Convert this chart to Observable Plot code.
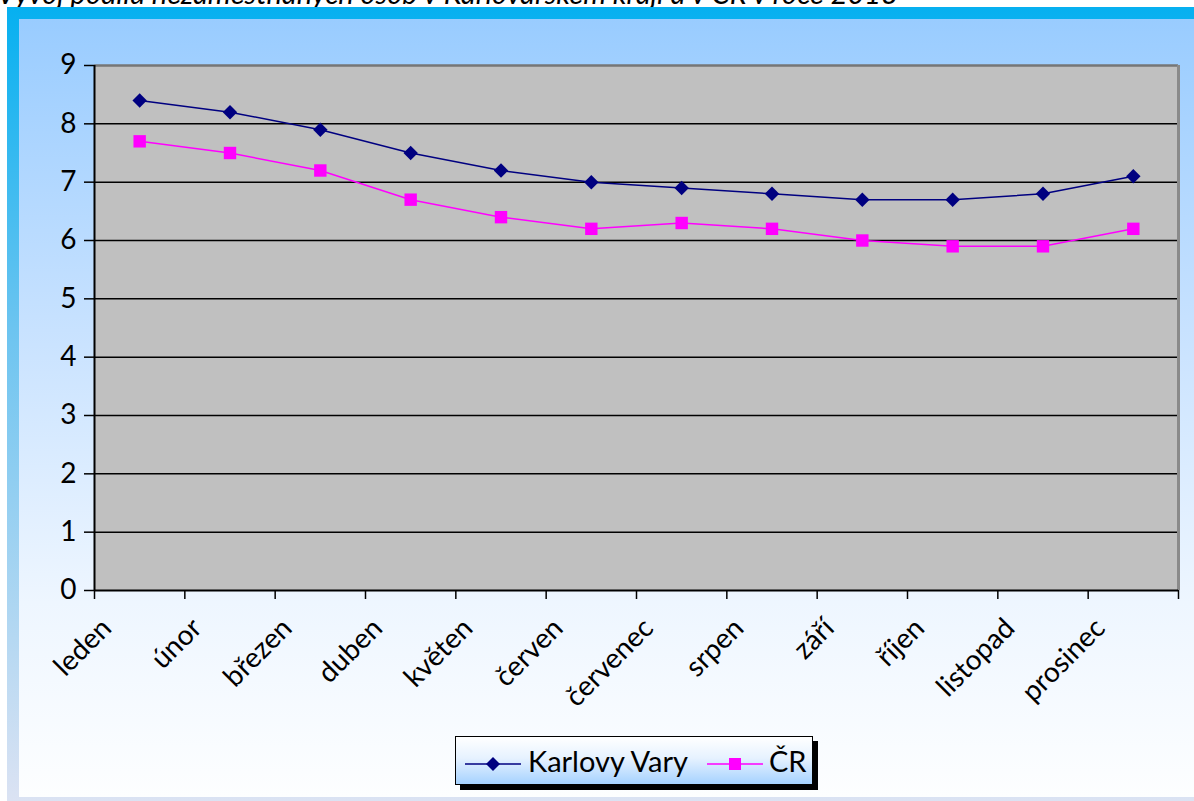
<!DOCTYPE html>
<html>
<head>
<meta charset="utf-8">
<script src="https://cdn.jsdelivr.net/npm/d3@7"></script>
<script src="https://cdn.jsdelivr.net/npm/@observablehq/plot@0.6"></script>
<style>
  html, body { margin: 0; padding: 0; background: #fff; }
  body { width: 1194px; height: 801px; position: relative; overflow: hidden; font-family: Lato, "Open Sans", sans-serif; }
  #title { position: absolute; left: -3px; top: -22px; font-style: italic; font-size: 29px; line-height: 29px; white-space: nowrap; color: #000; }
  #frame { position: absolute; left: 7px; top: 7px; width: 1210px; height: 802px; background: linear-gradient(to bottom, #06b0f0 0%, #6cc4f0 40%, #dde3f3 100%); }
  #inner { position: absolute; left: 12px; top: 12px; right: 0; bottom: 12px; background: linear-gradient(to bottom, #99ccff 0%, #c8e2ff 40%, #eef6ff 75%, #fdfeff 100%); }
  #chart { position: absolute; left: 0; top: 0; }
  #legend { position: absolute; left: 455px; top: 736px; width: 356px; height: 47px; border: 1px solid #000; background: linear-gradient(to bottom, #ffffff 0%, #e6f2ff 45%, #a6d2ff 100%); box-shadow: 5px 5px 0 #000; font-size: 29px; }
  #legend svg, #legend span { position: absolute; display: block; }
  #legend span { line-height: 47px; top: 0; white-space: nowrap; }
</style>
</head>
<body>
<div id="title">Vývoj podílu nezaměstnaných osob v Karlovarském kraji a v ČR v roce 2013</div>
<div id="frame"><div id="inner"></div></div>
<div id="chart"></div>
<div id="legend"></div>
<script>
const months = ["leden", "únor", "březen", "duben", "květen", "červen", "červenec", "srpen", "září", "říjen", "listopad", "prosinec"];
const karlovyVary = [8.4, 8.2, 7.9, 7.5, 7.2, 7.0, 6.9, 6.8, 6.7, 6.7, 6.8, 7.1];
const cr = [7.7, 7.5, 7.2, 6.7, 6.4, 6.2, 6.3, 6.2, 6.0, 5.9, 5.9, 6.2];
const yTicks = [0, 1, 2, 3, 4, 5, 6, 7, 8, 9];
const seriesNames = ["Karlovy Vary", "ČR"];
const colors = ["#000080", "#ff00ff"];

const data = months.map((m, i) => ({ i, pos: i + 0.5, month: m, kv: karlovyVary[i], cr: cr[i] }));
const bounds = d3.range(months.length + 1);

const chart = Plot.plot({
  width: 1194,
  height: 801,
  marginTop: 65,
  marginLeft: 94,
  marginRight: 16,
  marginBottom: 211,
  style: { background: "transparent", fontFamily: "Lato, 'Open Sans', sans-serif", color: "#000", overflow: "visible" },
  x: { type: "linear", domain: [0, months.length], axis: null, label: null },
  y: { domain: [0, 9], axis: null, label: null },
  marks: [
    Plot.frame({ fill: "#c0c0c0", stroke: null }),
    Plot.ruleY(yTicks.filter(v => v > 0 && v < 9), { stroke: "#000", strokeWidth: 1.5 }),
    Plot.ruleY([9], { stroke: "#767676", strokeWidth: 2.5 }),
    Plot.ruleX([months.length], { stroke: "#8a8a8a", strokeWidth: 3 }),
    Plot.ruleX([0], { stroke: "#000", strokeWidth: 2 }),
    Plot.ruleY([0], { stroke: "#000", strokeWidth: 2 }),
    Plot.axisY({ ticks: yTicks, tickSize: 10, tickPadding: 8, fontSize: 28, stroke: "#000", strokeWidth: 1.5, label: null, tickFormat: d => String(d) }),
    Plot.axisX({ ticks: bounds, tickSize: 9, tickFormat: () => "", stroke: "#000", strokeWidth: 1.5, label: null }),
    Plot.text(data, { x: "pos", y: () => 0, text: "month", rotate: -45, textAnchor: "end", lineAnchor: "middle", dx: -33, dy: 33, fontSize: 28, fill: "#000" }),
    Plot.line(data, { x: "pos", y: "kv", stroke: colors[0], strokeWidth: 1.5 }),
    Plot.line(data, { x: "pos", y: "cr", stroke: colors[1], strokeWidth: 1.5 }),
    Plot.dot(data, { x: "pos", y: "kv", symbol: "diamond2", r: 6.5, fill: colors[0], stroke: null }),
    Plot.dot(data, { x: "pos", y: "cr", symbol: "square", r: 7, fill: colors[1], stroke: null })
  ]
});
document.getElementById("chart").appendChild(chart);

// legend (swatch line from x0, label starting at tx, relative to the legend box)
const legend = d3.select("#legend");
const legendLayout = [{ x0: 9, tx: 72 }, { x0: 251, tx: 313 }];
seriesNames.forEach((name, k) => {
  const svg = legend.append("svg").attr("width", 56).attr("height", 20)
    .style("left", legendLayout[k].x0 + "px").style("top", "17px");
  svg.append("line").attr("x1", 0).attr("x2", 56).attr("y1", 10).attr("y2", 10).attr("stroke", colors[k]).attr("stroke-width", 1.5);
  if (k === 0) {
    svg.append("path").attr("d", "M28,3 L35,10 L28,17 L21,10 Z").attr("fill", colors[k]);
  } else {
    svg.append("rect").attr("x", 22).attr("y", 4).attr("width", 12).attr("height", 12).attr("fill", colors[k]);
  }
  legend.append("span").text(name).style("left", legendLayout[k].tx + "px");
});
</script>
</body>
</html>
